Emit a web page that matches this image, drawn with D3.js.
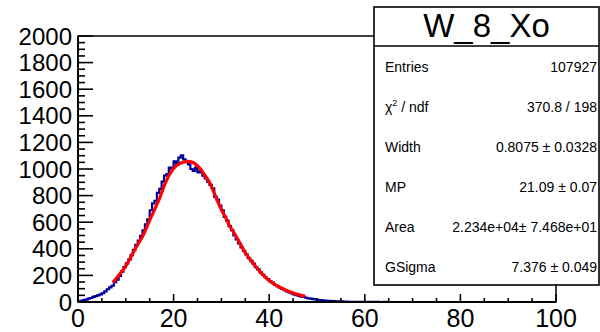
<!DOCTYPE html>
<html>
<head>
<meta charset="utf-8">
<script src="https://cdn.jsdelivr.net/npm/d3@7"></script>
<style>
  body { margin: 0; background: #fff; }
  text { font-family: "Liberation Sans", Arial, Helvetica, sans-serif; }
</style>
</head>
<body>
<div id="chart"></div>
<script>
// histogram contents, 0.5 wide bins starting at 0
var binStart = 0;
var binWidth = 0.5;
var counts = [
  4, 8, 14, 18, 26, 30, 38, 44, 50, 58,
  66, 80, 96, 110, 122, 150, 168, 196, 228, 262,
  290, 318, 352, 392, 430, 462, 498, 538, 584, 622,
  690, 742, 760, 820, 850, 905, 950, 962, 1010, 1002,
  1058, 1040, 1085, 1102, 1072, 1060, 1035, 1000, 985, 1010,
  975, 982, 950, 930, 905, 880, 855, 790, 770, 725,
  690, 640, 612, 570, 540, 500, 470, 440, 410, 385,
  358, 330, 310, 288, 262, 245, 222, 205, 186, 172,
  155, 145, 128, 120, 108, 98, 90, 80, 72, 64,
  58, 52, 46, 40, 38, 32, 28, 26, 22, 20,
  17, 14, 13, 11, 9, 8, 7, 6, 5, 5,
  4, 3, 3, 2, 2, 2, 1, 2, 1, 1,
  1, 1, 0, 1, 0, 1, 0, 0, 1, 0
];

// fitted langaus curve
var fitX = [7.3, 8.5, 10, 11.5, 13, 13.5, 15, 16.3, 17.2, 18.1, 19.9, 21.5, 23.1, 24.3, 25.5, 26.5,
            27.6, 28.6, 29.7, 30.8, 31.8, 32.8, 33.9, 35, 36, 37, 38.4, 39.8, 41.5, 43.3, 45, 47.5];
var fitY = [147, 200, 270, 368, 462, 492, 615, 717, 792, 880, 1000, 1045, 1058, 1045, 1005, 955,
            892, 810, 717, 640, 567, 510, 440, 370, 320, 275, 215, 167, 125, 92, 67, 42];

var xTicks = [0, 20, 40, 60, 80, 100];
var yTicks = [0, 200, 400, 600, 800, 1000, 1200, 1400, 1600, 1800, 2000];

var histTitle = "W_8_Xo";
var statNames = ["Entries", "chi2", "Width", "MP", "Area", "GSigma"];
var statValues = ["107927", "370.8 / 198", "0.8075 \u00b1 0.0328", "21.09 \u00b1 0.07",
                  "2.234e+04\u00b1 7.468e+01", "7.376 \u00b1 0.049"];

var plot = {
  width: 600,
  height: 332,
  left: 78,
  right: 556,
  top: 36,
  bottom: 302,
  svg: null,
  x: null,
  y: null
};

plot.draw = function() {
  plot.svg = d3.select("#chart").append("svg")
      .attr("width", plot.width)
      .attr("height", plot.height);

  plot.x = d3.scaleLinear().domain([0, 100]).range([plot.left, plot.right]);
  plot.y = d3.scaleLinear().domain([0, 2000]).range([plot.bottom, plot.top]);

  // histogram as a step outline
  var pts = [[binStart, 0]];
  counts.forEach(function(c, i) {
    var lo = binStart + i * binWidth;
    pts.push([lo, c]);
    pts.push([lo + binWidth, c]);
  });
  pts.push([binStart + counts.length * binWidth, 0]);

  var line = d3.line()
      .x(function(d) { return plot.x(d[0]); })
      .y(function(d) { return plot.y(d[1]); });

  plot.svg.append("path")
      .attr("d", line(pts))
      .attr("fill", "none")
      .attr("stroke", "#000099")
      .attr("stroke-width", 2.2);

  var fitLine = d3.line()
      .x(function(d) { return plot.x(d); })
      .y(function(d, i) { return plot.y(fitY[i]); })
      .curve(d3.curveMonotoneX);

  plot.svg.append("path")
      .attr("d", fitLine(fitX))
      .attr("fill", "none")
      .attr("stroke", "#ff0000")
      .attr("stroke-width", 3.2)
      .attr("stroke-linecap", "butt");

  // frame
  plot.svg.append("rect")
      .attr("x", plot.left)
      .attr("y", plot.top)
      .attr("width", plot.right - plot.left)
      .attr("height", plot.bottom - plot.top)
      .attr("fill", "none")
      .attr("stroke", "#000")
      .attr("stroke-width", 1.5);

  // x ticks, pointing up into the frame
  plot.svg.append("g").selectAll("line")
      .data(d3.range(0, 100.1, 5)).enter()
      .append("line")
      .attr("x1", function(d) { return plot.x(d); })
      .attr("x2", function(d) { return plot.x(d); })
      .attr("y1", plot.bottom)
      .attr("y2", function(d) { return plot.bottom - (d % 20 === 0 ? 8 : 4); })
      .attr("stroke", "#000")
      .attr("stroke-width", 1.6);

  plot.svg.append("line")
      .attr("x1", plot.left).attr("x2", plot.right)
      .attr("y1", plot.bottom).attr("y2", plot.bottom)
      .attr("stroke", "#000").attr("stroke-width", 1.8);

  plot.svg.append("g").selectAll("text")
      .data(xTicks).enter()
      .append("text")
      .attr("x", function(d) { return plot.x(d); })
      .attr("y", 327)
      .attr("text-anchor", "middle")
      .attr("font-size", 25)
      .text(function(d) { return d; });

  // y ticks, pointing right
  plot.svg.append("g").selectAll("line")
      .data(d3.range(0, 2000.1, 50)).enter()
      .append("line")
      .attr("x1", plot.left)
      .attr("x2", function(d) { return plot.left + (d % 200 === 0 ? 15 : 7); })
      .attr("y1", function(d) { return plot.y(d); })
      .attr("y2", function(d) { return plot.y(d); })
      .attr("stroke", "#000")
      .attr("stroke-width", 1.6);

  plot.svg.append("line")
      .attr("x1", plot.left).attr("x2", plot.left)
      .attr("y1", plot.top).attr("y2", plot.bottom)
      .attr("stroke", "#000").attr("stroke-width", 1.8);

  plot.svg.append("g").selectAll("text")
      .data(yTicks).enter()
      .append("text")
      .attr("x", 72)
      .attr("y", function(d) { return plot.y(d); })
      .attr("dy", "0.36em")
      .attr("text-anchor", "end")
      .attr("font-size", 24)
      .text(function(d) { return d; });

  plot.drawStats();
};

plot.drawStats = function() {
  var bx = 374, by = 7, bw = 225, bh = 278;
  var g = plot.svg.append("g");

  g.append("rect")
      .attr("x", bx).attr("y", by)
      .attr("width", bw).attr("height", bh)
      .attr("fill", "#fff")
      .attr("stroke", "#000")
      .attr("stroke-width", 1.6);

  g.append("line")
      .attr("x1", bx).attr("x2", bx + bw)
      .attr("y1", 46).attr("y2", 46)
      .attr("stroke", "#000")
      .attr("stroke-width", 1.6);

  g.append("text")
      .attr("x", bx + bw / 2)
      .attr("y", 37)
      .attr("text-anchor", "middle")
      .attr("font-size", 33)
      .text(histTitle);

  statNames.forEach(function(name, i) {
    var yy = 72 + i * 40;
    var t = g.append("text")
        .attr("x", 385)
        .attr("y", yy)
        .attr("font-size", 14);
    if (name === "chi2") {
      t.append("tspan").text("\u03c7");
      t.append("tspan").attr("font-size", 9).attr("dy", -6).text("2");
      t.append("tspan").attr("dy", 6).text(" / ndf");
    } else {
      t.text(name);
    }
    g.append("text")
        .attr("x", 597)
        .attr("y", yy)
        .attr("text-anchor", "end")
        .attr("font-size", 14)
        .text(statValues[i]);
  });
};

plot.draw();
</script>
</body>
</html>
